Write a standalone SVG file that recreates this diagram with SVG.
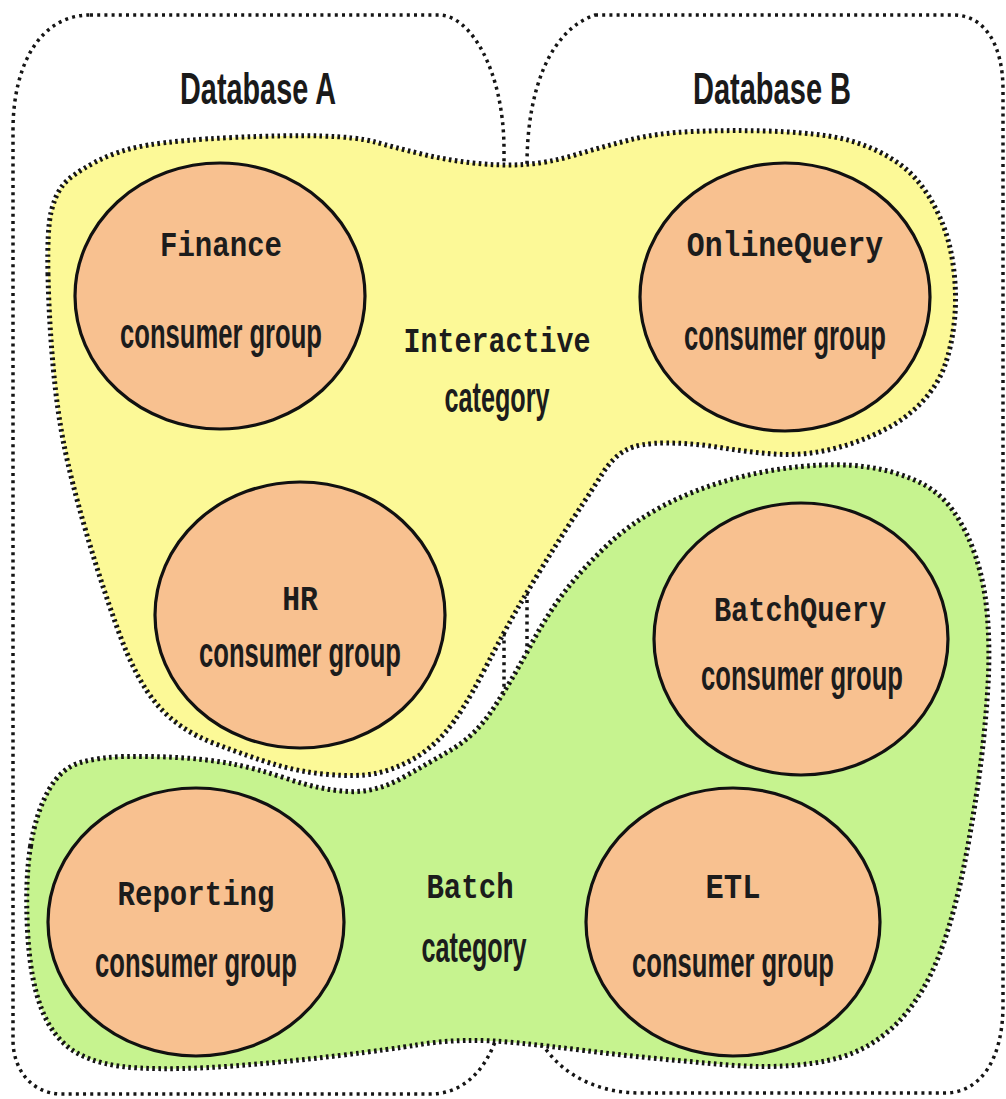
<svg xmlns="http://www.w3.org/2000/svg" width="1006" height="1099" viewBox="0 0 1006 1099">
  <style>
    .db { fill: none; stroke: #151515; stroke-width: 3.5; stroke-dasharray: 3 4.2; }
    .blob { stroke: #151515; stroke-width: 5; stroke-dasharray: 2.6 3.4; }
    .yellow { fill: #fcf997; }
    .green { fill: #c6f38f; }
    .cg { fill: #f8c190; stroke: #111; stroke-width: 3.2; }
    .mono { font-family: "Liberation Mono", "Courier New", monospace; font-weight: bold; font-size: 35px; fill: #1c1c1c; text-anchor: middle; }
    .sans { font-family: "Liberation Sans", Arial, sans-serif; font-weight: bold; font-size: 42px; fill: #1c1c1c; text-anchor: middle; }
    .title { font-family: "Liberation Sans", Arial, sans-serif; font-weight: bold; font-size: 44px; fill: #1a1a1a; text-anchor: middle; }
  </style>
  <rect x="0" y="0" width="1006" height="1099" fill="#ffffff"/>

  <g id="database-a">
    <path class="db" d="M90,15 L439,15 C470,15 504,70 504,150 L504,990 C504,1040 480,1094 430,1094 L62,1094 C32,1094 13,1070 13,1040 L13,130 C13,65 40,15 90,15 Z"/>
    <text class="title" transform="translate(258,104) scale(0.655,1)">Database A</text>
  </g>

  <g id="database-b">
    <path class="db" d="M595,15 L953,15 C985,15 1003,45 1003,90 L1003,1005 C1003,1060 980,1093 945,1093 L640,1093 C575,1093 527,1050 527,990 L527,165 C527,90 550,30 595,15 Z"/>
    <text class="title" transform="translate(772,104) scale(0.66,1)">Database B</text>
  </g>

  <g id="interactive-category">
    <path class="blob yellow" d="M48,275 Q47,230 51,212.5 Q55,195 63,185 Q71,175 94.5,162.5 Q118,150 148.5,145 Q179,140 232.5,137.5 Q286,135 321.5,136 Q357,137 375,142 Q393,147 419.5,153.5 Q446,160 473,163 Q500,166 524,164.5 Q548,163 575,155 Q602,147 629.5,140 Q657,133 693,131.5 Q729,130 765,131 Q801,132 828,136 Q855,140 878.5,151.5 Q902,163 916,179 Q930,195 940,217.5 Q950,240 953.5,267.5 Q957,295 954.5,320 Q952,345 945,365 Q938,385 921.5,402.5 Q905,420 880,432 Q855,444 828,450 Q801,456 774,454 Q747,452 720,447.5 Q693,443 666,443 Q639,443 626,450 Q613,457 602.5,473.5 Q592,490 575.5,515 Q559,540 544.5,563.5 Q530,587 517.5,608.5 Q505,630 483.5,671.5 Q462,713 446,731.5 Q430,750 411.5,760 Q393,770 375,773.5 Q357,777 328.5,774.5 Q300,772 275,764.5 Q250,757 214.5,743.5 Q179,730 157.5,705 Q136,680 118,630 Q100,580 85.5,530 Q71,480 64,445 Q57,410 53,365 Q49,320 48,275 Z"/>
    <text class="mono" transform="translate(497,352) scale(0.81,1)">Interactive</text>
    <text class="sans" transform="translate(497,412) scale(0.6,1)">category</text>
  </g>

  <g id="batch-category">
    <path class="blob green" d="M30.5,846.5 Q36,813 48.5,790.5 Q61,768 80.5,762.5 Q100,757 125,756.5 Q150,756 177.5,757.5 Q205,759 230,763.5 Q255,768 288,779 Q321,790 348,791.5 Q375,793 402,778 Q429,763 452.5,749 Q476,735 494,707.5 Q512,680 530,646.5 Q548,613 566,590 Q584,567 607.5,545 Q631,523 662,506.5 Q693,490 729,480 Q765,470 801,466.5 Q837,463 864,466.5 Q891,470 914.5,480 Q938,490 952.5,510 Q967,530 976,557.5 Q985,585 987.5,617.5 Q990,650 988,685 Q986,720 981.5,757.5 Q977,795 968.5,842.5 Q960,890 949,926.5 Q938,963 923.5,988 Q909,1013 891,1029 Q873,1045 851.5,1053.5 Q830,1062 797.5,1065 Q765,1068 729,1065 Q693,1062 656.5,1058.5 Q620,1055 584,1050.5 Q548,1046 519,1043 Q490,1040 465,1040.5 Q440,1041 416.5,1045 Q393,1049 339.5,1055.5 Q286,1062 232.5,1066 Q179,1070 139.5,1068 Q100,1066 77,1053 Q54,1040 42,1010 Q30,980 27.5,930 Q25,880 30.5,846.5 Z"/>
    <text class="mono" transform="translate(470,898) scale(0.83,1)">Batch</text>
    <text class="sans" transform="translate(474,962) scale(0.6,1)">category</text>
  </g>

  <g id="finance">
    <ellipse class="cg" cx="220" cy="296" rx="145" ry="133"/>
    <text class="mono" transform="translate(221,256) scale(0.83,1)">Finance</text>
    <text class="sans" transform="translate(221,348) scale(0.61,1)">consumer group</text>
  </g>

  <g id="onlinequery">
    <ellipse class="cg" cx="785" cy="297" rx="145" ry="134"/>
    <text class="mono" transform="translate(785,256) scale(0.85,1)">OnlineQuery</text>
    <text class="sans" transform="translate(785,350) scale(0.61,1)">consumer group</text>
  </g>

  <g id="hr">
    <ellipse class="cg" cx="300" cy="615" rx="145" ry="133"/>
    <text class="mono" transform="translate(300,610) scale(0.85,1)">HR</text>
    <text class="sans" transform="translate(300,667) scale(0.61,1)">consumer group</text>
  </g>

  <g id="batchquery">
    <ellipse class="cg" cx="801" cy="639" rx="147" ry="136"/>
    <text class="mono" transform="translate(800,621) scale(0.82,1)">BatchQuery</text>
    <text class="sans" transform="translate(802,690) scale(0.61,1)">consumer group</text>
  </g>

  <g id="reporting">
    <ellipse class="cg" cx="196" cy="922" rx="148" ry="134"/>
    <text class="mono" transform="translate(196,905) scale(0.83,1)">Reporting</text>
    <text class="sans" transform="translate(196,977) scale(0.61,1)">consumer group</text>
  </g>

  <g id="etl">
    <ellipse class="cg" cx="733" cy="922" rx="147" ry="134"/>
    <text class="mono" transform="translate(733,898) scale(0.87,1)">ETL</text>
    <text class="sans" transform="translate(733,977) scale(0.61,1)">consumer group</text>
  </g>
</svg>
